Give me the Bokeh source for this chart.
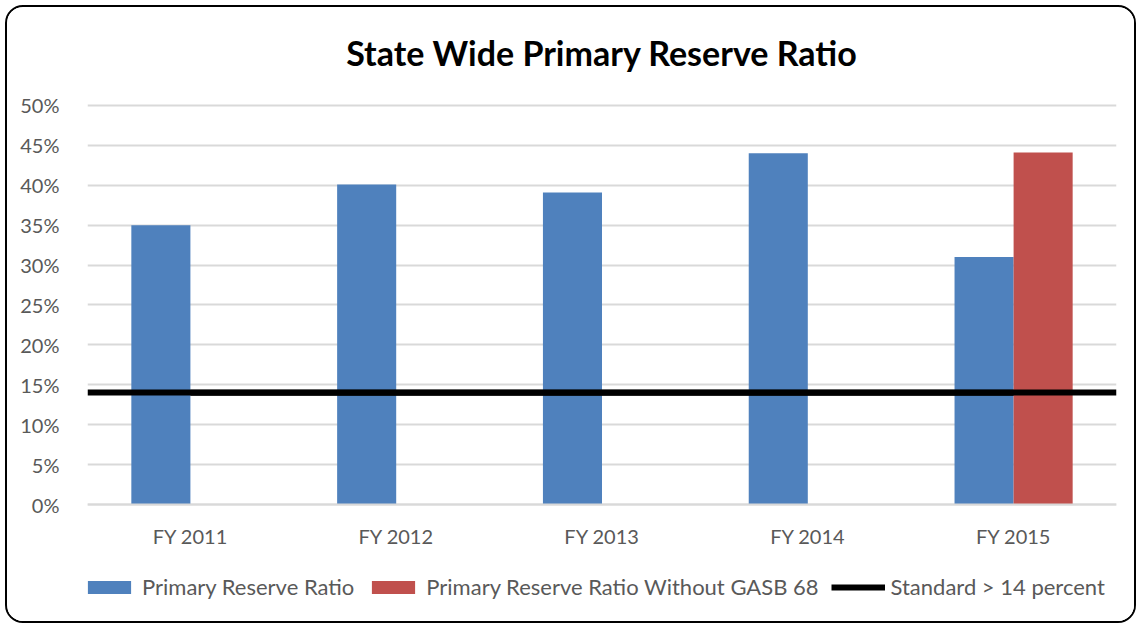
from bokeh.plotting import figure
from bokeh.models import (ColumnDataSource, Range1d, FixedTicker, PrintfTickFormatter,
                          Legend, LegendItem, Label)
from bokeh.transform import dodge
from bokeh.embed import file_html
from bokeh.resources import INLINE
import numpy as np

categories = ["FY 2011", "FY 2012", "FY 2013", "FY 2014", "FY 2015"]
primary_reserve = [35.0, 40.1, 39.1, 44.0, 31.0]
without_gasb68 = [np.nan, np.nan, np.nan, np.nan, 44.1]
standard = [14, 14, 14, 14, 14]
y_ticks = [0, 5, 10, 15, 20, 25, 30, 35, 40, 45, 50]
title_text = "State Wide Primary Reserve Ratio"

FONT = "Lato"
GRAY = "#595959"

src = ColumnDataSource(dict(cat=categories, prr=primary_reserve,
                            wg=without_gasb68, std=standard))

# frame extends above 50 (title) and below 0 (legend); the x axis sits at y = 0
p = figure(x_range=categories, y_range=Range1d(-12.53, 59.77), width=1131, height=618,
           output_backend="svg", toolbar_location=None,
           min_border_left=80, min_border_right=22, min_border_top=20,
           min_border_bottom=21)
p.styles = {"border": "2px solid #000000", "border-radius": "18px",
            "box-sizing": "border-box", "overflow": "hidden",
            "margin-left": "5px", "margin-top": "5px"}
p.background_fill_color = "white"
p.border_fill_color = "white"
p.outline_line_color = None

p.add_layout(Label(x=len(categories) / 2, y=56.64, text=title_text,
                   text_font=FONT, text_font_size="34px", text_font_style="bold",
                   text_color="black", text_align="center", text_baseline="middle"))

b1 = p.vbar(x=dodge("cat", -0.1435, range=p.x_range), top="prr", width=0.287,
            source=src, fill_color="#4F81BD", line_color=None)
b2 = p.vbar(x=dodge("cat", 0.1435, range=p.x_range), top="wg", width=0.287,
            source=src, fill_color="#C0504D", line_color=None)
p.hspan(y=[standard[0]], line_color="black", line_width=6)
l1 = p.line(x="cat", y="std", source=src, line_color="black", line_width=6)

p.yaxis.ticker = FixedTicker(ticks=y_ticks)
p.yaxis.formatter = PrintfTickFormatter(format="%d%%")
p.yaxis.axis_line_color = None
p.yaxis.major_tick_line_color = None
p.yaxis.minor_tick_line_color = None
p.yaxis.major_label_text_font = FONT
p.yaxis.major_label_text_font_size = "20px"
p.yaxis.major_label_text_color = GRAY
p.yaxis.major_label_standoff = 22

p.xaxis.fixed_location = 0
p.xaxis.axis_line_color = "#D9D9D9"
p.xaxis.axis_line_width = 2
p.xaxis.major_tick_line_color = None
p.xaxis.minor_tick_line_color = None
p.xaxis.major_label_text_font = FONT
p.xaxis.major_label_text_font_size = "20px"
p.xaxis.major_label_text_color = GRAY
p.xaxis.major_label_standoff = 13

p.xgrid.grid_line_color = None
p.ygrid.grid_line_color = "#D9D9D9"
p.ygrid.grid_line_width = 2

legend = Legend(items=[
    LegendItem(label="Primary Reserve Ratio", renderers=[b1]),
    LegendItem(label="Primary Reserve Ratio Without GASB 68", renderers=[b2]),
    LegendItem(label="Standard > 14 percent", renderers=[l1]),
], orientation="horizontal", location=(-5, 4))
legend.label_text_font = FONT
legend.label_text_font_size = "22px"
legend.label_text_color = GRAY
legend.glyph_width = 54
legend.glyph_height = 16
legend.label_height = 24
legend.label_standoff = 6
legend.spacing = 12
legend.border_line_color = None
legend.background_fill_alpha = 0
legend.margin = 0
legend.padding = 0
p.add_layout(legend, "center")

open("out.html", "w").write(file_html(p, INLINE))
